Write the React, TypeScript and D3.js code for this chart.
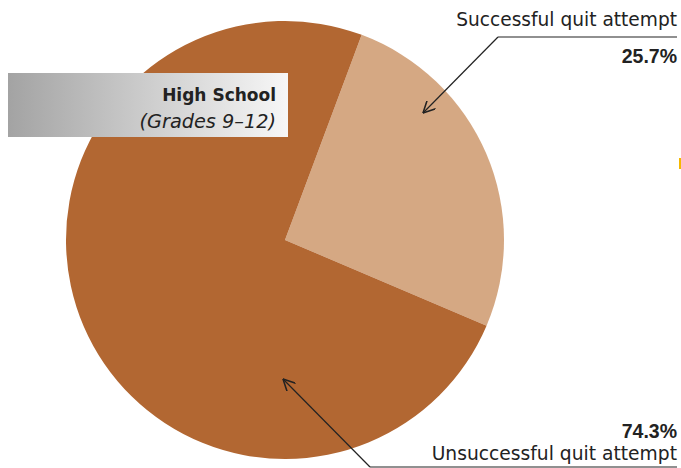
import * as React from "react";
import * as d3 from "d3";

const labels = ["Successful quit attempt", "Unsuccessful quit attempt"];
const values = [25.7, 74.3];
const colors = ["#d5a883", "#b26732"];
const boxTitle = "High School";
const boxSub = "(Grades 9–12)";

const width = 681;
const height = 468;

const App = () => {
  const cx = 285;
  const cy = 240;
  const r = 219;
  const start = (20.5 * Math.PI) / 180;

  const pie = d3
    .pie<number>()
    .value(d => d)
    .sort(null)
    .startAngle(start)
    .endAngle(start + 2 * Math.PI);
  const arc = d3.arc<d3.PieArcDatum<number>>().innerRadius(0).outerRadius(r);
  const slices = pie(values);
  const fmt = d3.format(".1f");
  const font = "'DejaVu Sans', sans-serif";
  const pctFont = "'Liberation Sans', Arial, sans-serif";

  return (
    <svg
      width={width}
      height={height}
      style={{ position: "absolute", left: 0, top: 0, display: "block" }}
    >
      <defs>
        <linearGradient id="boxGrad" x1="0" x2="1" y1="0" y2="0">
          <stop offset="0" stopColor="#a3a3a3" />
          <stop offset="1" stopColor="#f7f7f7" />
        </linearGradient>
        <marker
          id="arrow"
          viewBox="0 0 10 10"
          refX="10"
          refY="5"
          markerWidth="12"
          markerHeight="12"
          markerUnits="userSpaceOnUse"
          orient="auto"
        >
          <path d="M0,0 L10,5 L0,10" fill="none" stroke="#222" strokeWidth="1.3" />
        </marker>
      </defs>
      <g transform={`translate(${cx},${cy})`}>
        {slices.map((s, i) => (
          <path key={i} d={arc(s) || ""} fill={colors[i]} />
        ))}
      </g>

      {/* label box */}
      <rect x={8} y={73} width={280} height={64} fill="url(#boxGrad)" />
      <text
        x={276}
        y={101}
        textAnchor="end"
        fontFamily={font}
        fontWeight="bold"
        fontSize={17}
        fill="#222"
      >
        {boxTitle}
      </text>
      <text
        x={276}
        y={128}
        textAnchor="end"
        fontFamily={font}
        fontStyle="italic"
        fontSize={19.3}
        fill="#222"
      >
        {boxSub}
      </text>

      {/* successful */}
      <text x={677} y={26} textAnchor="end" fontFamily={font} fontSize={18.6} fill="#222">
        {labels[0]}
      </text>
      <line x1={498} y1={37} x2={677} y2={37} stroke="#222" strokeWidth={1.2} />
      <line
        x1={498}
        y1={37}
        x2={423}
        y2={113}
        stroke="#222"
        strokeWidth={1.2}
        markerEnd="url(#arrow)"
      />
      <text
        x={677}
        y={63}
        textAnchor="end"
        fontFamily={pctFont}
        fontWeight="bold"
        fontSize={19.5}
        fill="#222"
      >
        {fmt(values[0])}%
      </text>

      {/* unsuccessful */}
      <text
        x={677}
        y={438}
        textAnchor="end"
        fontFamily={pctFont}
        fontWeight="bold"
        fontSize={19.5}
        fill="#222"
      >
        {fmt(values[1])}%
      </text>
      <text x={677} y={460} textAnchor="end" fontFamily={font} fontSize={18.7} fill="#222">
        {labels[1]}
      </text>
      <line x1={370} y1={467} x2={677} y2={467} stroke="#222" strokeWidth={1.2} />
      <line
        x1={370}
        y1={467}
        x2={283}
        y2={379}
        stroke="#222"
        strokeWidth={1.2}
        markerEnd="url(#arrow)"
      />

      <line x1={680} y1={158} x2={680} y2={169} stroke="#f5b800" strokeWidth={2} />
    </svg>
  );
};

export default App;
